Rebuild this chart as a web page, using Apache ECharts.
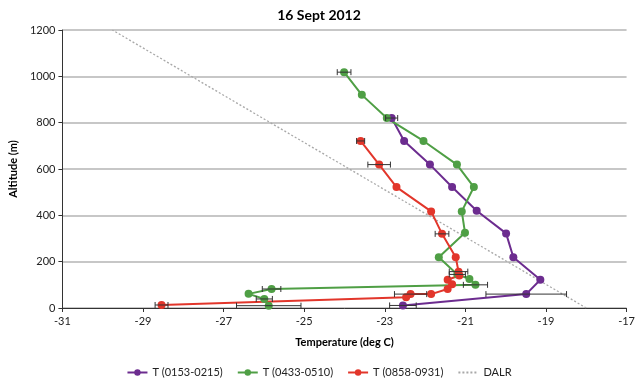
<!DOCTYPE html>
<html>
<head>
<meta charset="utf-8">
<script src="https://cdn.jsdelivr.net/npm/echarts@6/dist/echarts.min.js"></script>
<style>html,body{margin:0;padding:0;background:#fff;}#c{width:638px;height:384px;}</style>
</head>
<body>
<div id="c"></div>
<script>
var xTicks = [-31, -29, -27, -25, -23, -21, -19, -17];
var yTicks = [0, 200, 400, 600, 800, 1000, 1200];

var purpleName = 'T (0153-0215)';
var purpleAlt  = [820, 721, 619, 522, 420, 322, 219, 122, 60, 11];
var purpleTemp = [-22.83, -22.52, -21.88, -21.33, -20.72, -19.99, -19.81, -19.14, -19.49, -22.55];
var purpleErr  = [0.15, 0, 0, 0, 0, 0, 0, 0, 1.0, 0.33];

var greenName = 'T (0433-0510)';
var greenAlt  = [1018, 920, 820, 721, 619, 522, 417, 325, 219, 145, 125, 100, 82, 61, 39, 10];
var greenTemp = [-24.01, -23.57, -22.95, -22.04, -21.21, -20.79, -21.09, -21.01, -21.66, -21.2, -20.9, -20.75, -25.81, -26.38, -25.99, -25.88];
var greenErr  = [0.17, 0, 0, 0, 0, 0, 0, 0, 0, 0.2, 0, 0.3, 0.23, 0, 0.2, 0.8];

var redName = 'T (0858-0931)';
var redAlt  = [721, 619, 522, 417, 320, 219, 157, 140, 122, 103, 82, 60, 60, 46, 13];
var redTemp = [-23.60, -23.14, -22.71, -21.85, -21.58, -21.24, -21.17, -21.15, -21.44, -21.33, -21.44, -21.85, -22.36, -22.47, -28.54];
var redErr  = [0.1, 0.28, 0, 0, 0.17, 0, 0.23, 0, 0, 0, 0, 0, 0.4, 0, 0.16];

var dalrName = 'DALR';
var dalrTemp = [-18.0, -29.76];
var dalrAlt  = [0, 1200];

var colors = { purple: '#6c2c8f', green: '#4f9f45', red: '#e2362b', dalr: '#a8a8a8' };

function pts(t, a) { return t.map(function (v, i) { return [v, a[i]]; }); }
function errPts(t, a, e) {
  var out = [];
  t.forEach(function (v, i) { if (e[i] > 0) out.push([v, a[i], e[i]]); });
  return out;
}
function errRender(params, api) {
  var x = api.value(0), y = api.value(1), e = api.value(2);
  var l = api.coord([x - e, y]), r = api.coord([x + e, y]);
  var h = 3;
  var st = { stroke: '#333', lineWidth: 1 };
  return {
    type: 'group',
    children: [
      { type: 'line', shape: { x1: l[0], y1: l[1], x2: r[0], y2: r[1] }, style: st },
      { type: 'line', shape: { x1: l[0], y1: l[1] - h, x2: l[0], y2: l[1] + h }, style: st },
      { type: 'line', shape: { x1: r[0], y1: r[1] - h, x2: r[0], y2: r[1] + h }, style: st }
    ]
  };
}
function lineSeries(name, t, a, color) {
  return {
    name: name, type: 'line', data: pts(t, a), symbol: 'circle', symbolSize: 8,
    itemStyle: { color: color }, lineStyle: { color: color, width: 2 }, z: 3
  };
}
function errSeries(t, a, e) {
  return { type: 'custom', data: errPts(t, a, e), renderItem: errRender, z: 4, silent: true,
           encode: { x: 0, y: 1 } };
}

var font = 'Lato, "Open Sans", sans-serif';
var chart = echarts.init(document.getElementById('c'), null, { renderer: 'canvas' });
chart.setOption({
  animation: false,
  textStyle: { fontFamily: font },
  title: { text: '16 Sept 2012', left: 'center', top: 3,
           textStyle: { fontFamily: font, fontSize: 14, fontWeight: 'bold', color: '#000' } },
  grid: { left: 57, right: 8, top: 30, bottom: 76 },
  xAxis: {
    type: 'value', min: -31, max: -17,
    name: 'Temperature (deg C)', nameLocation: 'middle', nameGap: 29,
    nameTextStyle: { fontFamily: font, fontSize: 11, fontWeight: 'bold', color: '#000' },
    axisLine: { onZero: false, lineStyle: { color: '#333' } },
    axisTick: { show: true, customValues: xTicks, length: 4, inside: false, lineStyle: { color: '#333' } },
    axisLabel: { customValues: xTicks, fontSize: 11, color: '#222', margin: 8,
                 formatter: function (v) { return String(v); } },
    splitLine: { show: false }
  },
  yAxis: {
    type: 'value', min: 0, max: 1200, interval: 200,
    name: 'Altitude (m)', nameLocation: 'middle', nameGap: 40, nameRotate: 90,
    nameTextStyle: { fontFamily: font, fontSize: 11, fontWeight: 'bold', color: '#000' },
    axisLine: { show: true, lineStyle: { color: '#333' } },
    axisTick: { show: true, length: 4, lineStyle: { color: '#333' } },
    axisLabel: { fontSize: 11, color: '#222', margin: 7,
                 formatter: function (v) { return String(v); } },
    splitLine: { show: true, lineStyle: { color: '#b5b5b5', width: 1.5 } }
  },
  legend: {
    bottom: 1, left: 'center', itemWidth: 20, itemHeight: 8, itemGap: 14,
    textStyle: { fontFamily: font, fontSize: 11, color: '#222' },
    data: [purpleName, greenName, redName, { name: dalrName, itemStyle: { opacity: 0 } }]
  },
  series: [
    { name: dalrName, type: 'line', data: pts(dalrTemp, dalrAlt), symbol: 'none',
      lineStyle: { color: colors.dalr, width: 1.3, type: [2, 2] }, itemStyle: { color: colors.dalr }, z: 2 },
    lineSeries(purpleName, purpleTemp, purpleAlt, colors.purple),
    lineSeries(greenName, greenTemp, greenAlt, colors.green),
    lineSeries(redName, redTemp, redAlt, colors.red),
    errSeries(purpleTemp, purpleAlt, purpleErr),
    errSeries(greenTemp, greenAlt, greenErr),
    errSeries(redTemp, redAlt, redErr)
  ]
});
</script>
</body>
</html>
